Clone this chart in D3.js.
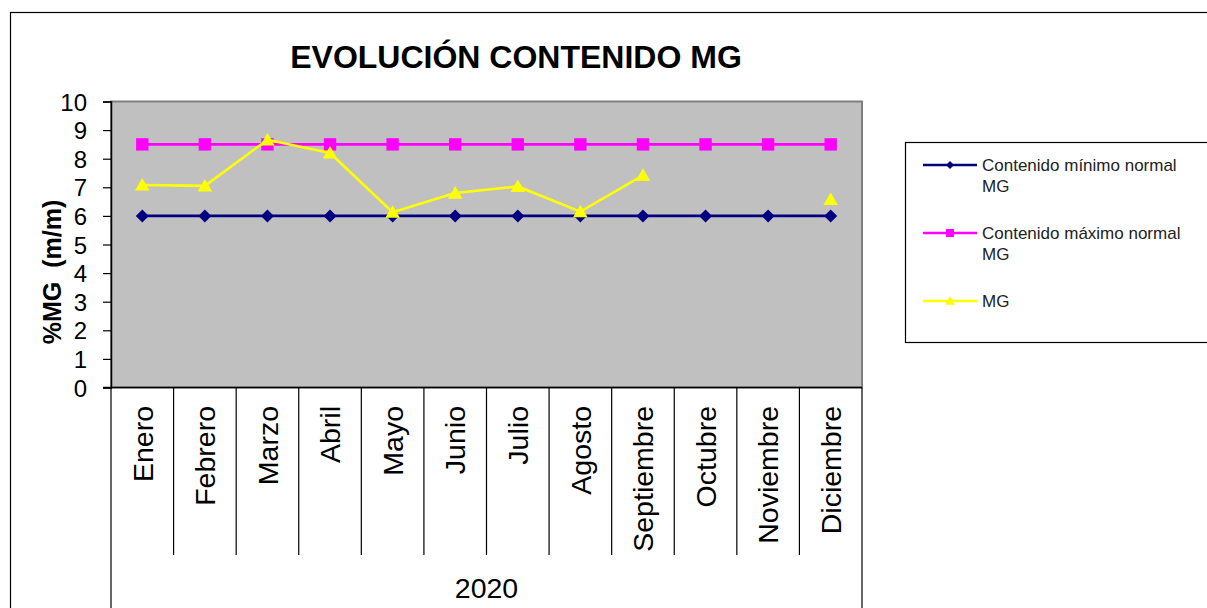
<!DOCTYPE html>
<html>
<head>
<meta charset="utf-8">
<script src="https://cdn.jsdelivr.net/npm/d3@7"></script>
<style>
  html, body { margin: 0; padding: 0; background: #fff; overflow: hidden; }
  svg { display: block; font-family: "Liberation Sans", Arial, sans-serif; }
</style>
</head>
<body>
<svg id="chart" width="1207" height="608"></svg>
<script>
const months = ["Enero", "Febrero", "Marzo", "Abril", "Mayo", "Junio", "Julio",
  "Agosto", "Septiembre", "Octubre", "Noviembre", "Diciembre"];
const minNormal = [6, 6, 6, 6, 6, 6, 6, 6, 6, 6, 6, 6];
const maxNormal = [8.5, 8.5, 8.5, 8.5, 8.5, 8.5, 8.5, 8.5, 8.5, 8.5, 8.5, 8.5];
const mg = [7.08, 7.05, 8.66, 8.2, 6.13, 6.8, 7.03, 6.15, 7.42, null, null, 6.58];
const yTicks = [0, 1, 2, 3, 4, 5, 6, 7, 8, 9, 10];
const year = "2020";

const series = [
  { name: "Contenido mínimo normal MG", lines: ["Contenido mínimo normal", "MG"], values: minNormal, color: "#000080", marker: "diamond" },
  { name: "Contenido máximo normal MG", lines: ["Contenido máximo normal", "MG"], values: maxNormal, color: "#FF00FF", marker: "square" },
  { name: "MG", lines: ["MG"], values: mg, color: "#FFFF00", marker: "triangle" }
];

const svg = d3.select("#chart");
const plot = { left: 111, top: 101.5, right: 862, bottom: 387.5 };

// outer chart frame
svg.append("rect")
  .attr("x", 10.5).attr("y", 12.5)
  .attr("width", 1400).attr("height", 800)
  .attr("fill", "#fff").attr("stroke", "#000").attr("stroke-width", 1.2);

const x = d3.scaleBand().domain(months).range([plot.left, plot.right]).padding(0);
const y = d3.scaleLinear().domain([0, 10]).range([plot.bottom, plot.top]);

// plot area
svg.append("rect")
  .attr("x", plot.left).attr("y", plot.top)
  .attr("width", plot.right - plot.left).attr("height", plot.bottom - plot.top)
  .attr("fill", "#C0C0C0").attr("stroke", "#808080").attr("stroke-width", 2);

// title
svg.append("text")
  .attr("x", 516).attr("y", 68)
  .attr("text-anchor", "middle")
  .attr("font-size", 32).attr("font-weight", "bold")
  .text("EVOLUCIÓN CONTENIDO MG");

// y axis
const yAxis = d3.axisLeft(y).tickValues(yTicks).tickSize(8).tickPadding(16).tickFormat(d3.format("d"));
const gy = svg.append("g").attr("transform", `translate(${plot.left},0)`).call(yAxis);
gy.select(".domain").attr("stroke", "#000").attr("stroke-width", 1.5);
gy.selectAll(".tick line").attr("stroke", "#000").attr("stroke-width", 1.2);
gy.selectAll(".tick text")
  .attr("font-size", 24).attr("font-family", "Liberation Sans, Arial, sans-serif")
  .attr("fill", "#000").attr("dy", "0.36em");

svg.append("text")
  .attr("transform", "translate(61,272) rotate(-90)")
  .attr("text-anchor", "middle")
  .attr("font-size", 25).attr("font-weight", "bold")
  .attr("xml:space", "preserve")
  .style("white-space", "pre")
  .text("%MG  (m/m)");

// x axis: bottom line and category dividers
svg.append("line")
  .attr("x1", plot.left - 8).attr("x2", plot.right)
  .attr("y1", plot.bottom).attr("y2", plot.bottom)
  .attr("stroke", "#000").attr("stroke-width", 1.5);

const edges = months.map(m => x(m)).concat([x.range()[1]]);
svg.selectAll("line.divider")
  .data(edges)
  .join("line")
  .attr("class", "divider")
  .attr("x1", d => d).attr("x2", d => d)
  .attr("y1", plot.bottom)
  .attr("y2", (d, i) => (i === 0 || i === edges.length - 1) ? 608 : 555)
  .attr("stroke", "#000").attr("stroke-width", 1.2);

svg.selectAll("text.month")
  .data(months)
  .join("text")
  .attr("class", "month")
  .attr("transform", d => `translate(${x(d) + x.bandwidth() / 2},406) rotate(-90)`)
  .attr("text-anchor", "end")
  .attr("dy", "0.36em")
  .attr("font-size", 28.5)
  .text(d => d);

svg.append("text")
  .attr("x", (plot.left + plot.right) / 2).attr("y", 598)
  .attr("text-anchor", "middle")
  .attr("font-size", 28.5)
  .text(year);

// markers
function markerPath(type, s) {
  const p = d3.path();
  if (type === "diamond") {
    p.moveTo(0, -s); p.lineTo(s, 0); p.lineTo(0, s); p.lineTo(-s, 0); p.closePath();
  } else if (type === "square") {
    p.rect(-s, -s, 2 * s, 2 * s);
  } else {
    p.moveTo(0, -s * 1.05); p.lineTo(s * 1.1, s * 0.85); p.lineTo(-s * 1.1, s * 0.85); p.closePath();
  }
  return p.toString();
}
const markerSize = { diamond: 6.5, square: 6.2, triangle: 6.6 };

const line = d3.line()
  .defined(d => d.v !== null)
  .x(d => x(d.m) + x.bandwidth() / 2)
  .y(d => y(d.v));

series.forEach(s => {
  const pts = months.map((m, i) => ({ m: m, v: s.values[i] }));
  svg.append("path")
    .datum(pts)
    .attr("d", line)
    .attr("fill", "none")
    .attr("stroke", s.color)
    .attr("stroke-width", s.marker === "diamond" ? 2.8 : 2.6);
  svg.selectAll(null)
    .data(pts.filter(d => d.v !== null))
    .join("path")
    .attr("transform", d => `translate(${x(d.m) + x.bandwidth() / 2},${y(d.v)})`)
    .attr("d", markerPath(s.marker, markerSize[s.marker]))
    .attr("fill", s.color);
});

// legend
const legend = svg.append("g");
legend.append("rect")
  .attr("x", 905.5).attr("y", 142.5)
  .attr("width", 400).attr("height", 200)
  .attr("fill", "#fff").attr("stroke", "#000").attr("stroke-width", 1.2);

const legendY = [165, 233, 301];
series.forEach((s, i) => {
  const g = legend.append("g").attr("transform", `translate(0,${legendY[i]})`);
  g.append("line")
    .attr("x1", 923).attr("x2", 977)
    .attr("stroke", s.color).attr("stroke-width", 2.4);
  g.append("path")
    .attr("transform", "translate(950,0)")
    .attr("d", markerPath(s.marker, s.marker === "triangle" ? 4.5 : 4))
    .attr("fill", s.color);
  g.selectAll("text")
    .data(s.lines)
    .join("text")
    .attr("x", 982)
    .attr("y", (d, j) => 6 + j * 21)
    .attr("font-size", 17)
    .attr("fill", "#222")
    .text(d => d);
});
</script>
</body>
</html>
